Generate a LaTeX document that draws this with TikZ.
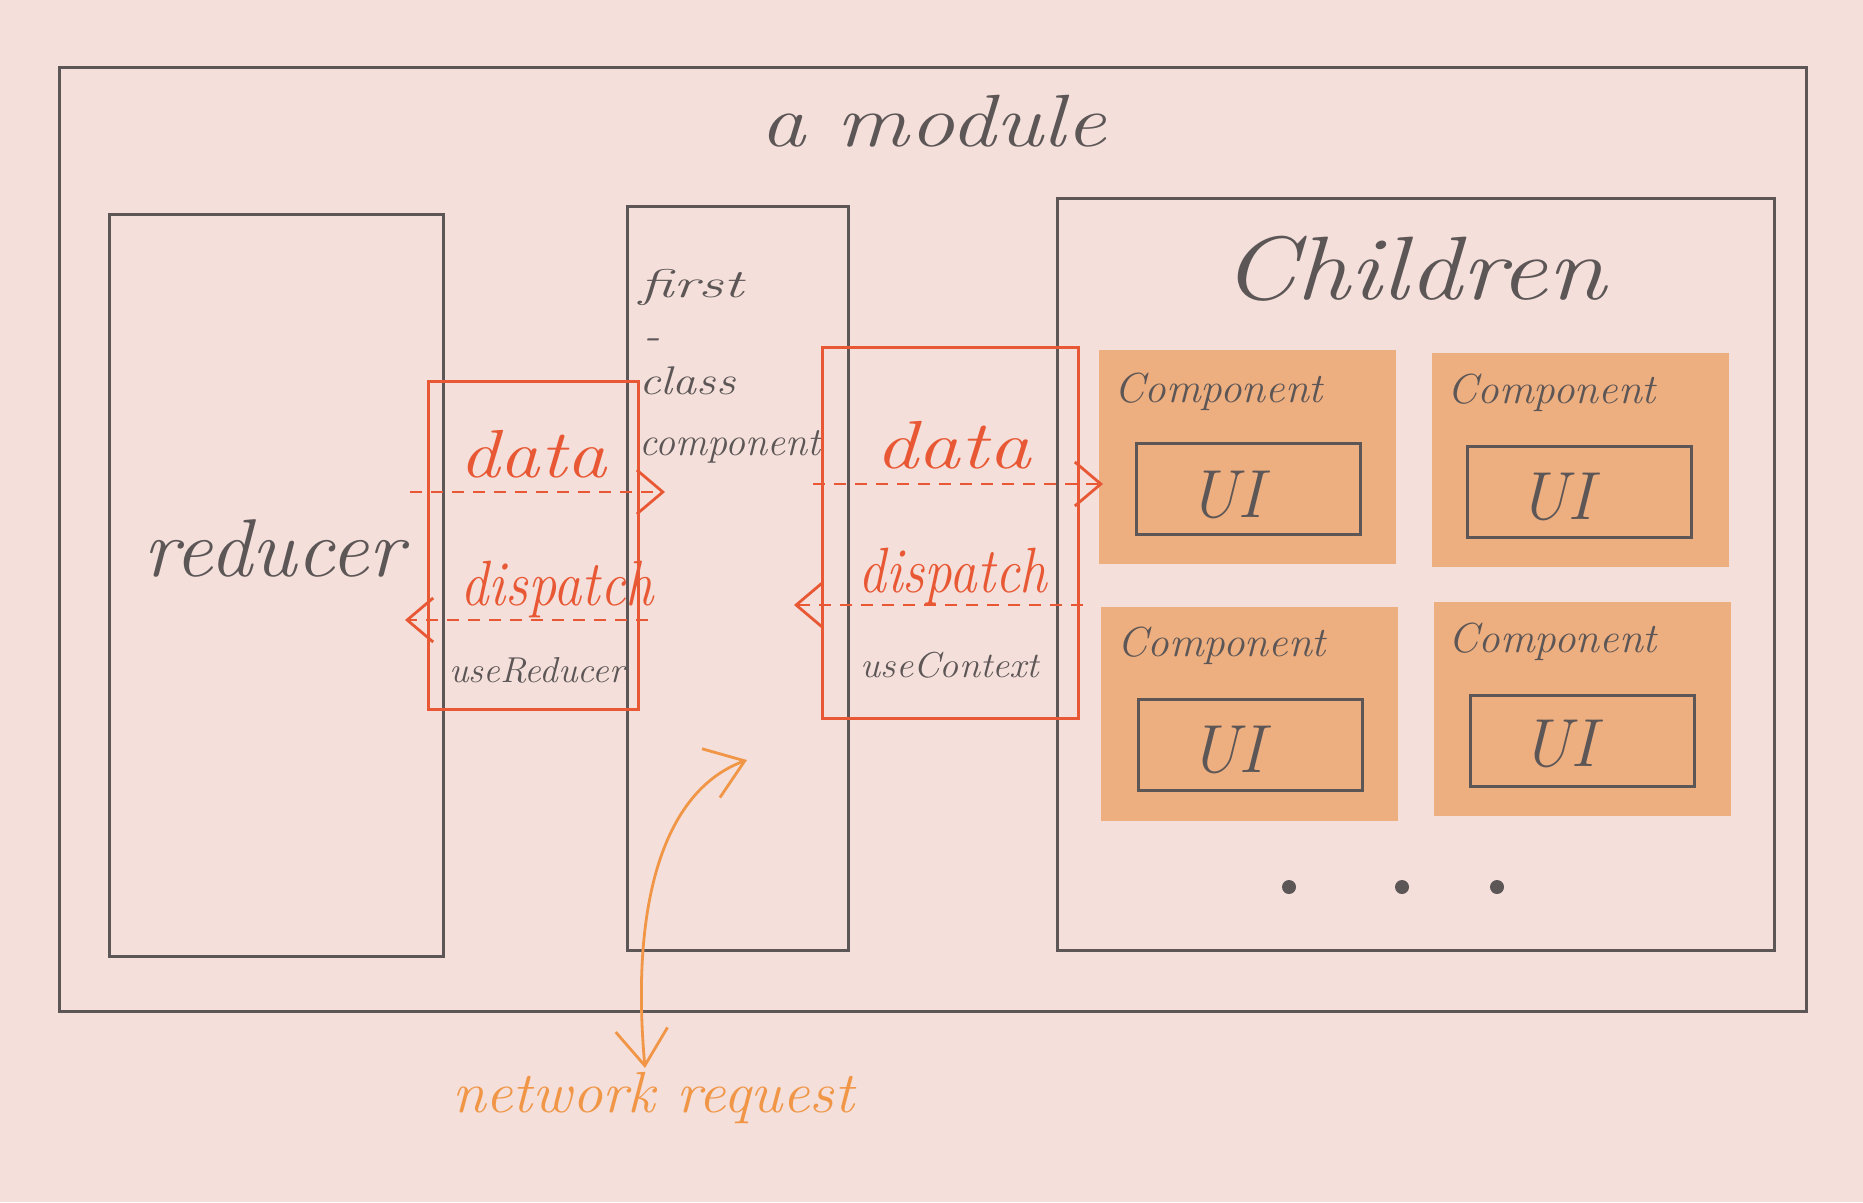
\documentclass[tikz,border=0pt]{standalone}
\usepackage{graphicx}
\usetikzlibrary{arrows.meta}
\definecolor{bg}{RGB}{244,223,218}
\definecolor{pencil}{RGB}{92,86,86}
\definecolor{redpen}{RGB}{232,88,52}
\definecolor{compfill}{RGB}{237,174,128}
\definecolor{netpen}{RGB}{240,150,70}
\newcommand{\sk}[3]{\scalebox{#2}[1]{\fontsize{#1}{#1}\selectfont\itshape #3}}
\begin{document}
\begin{tikzpicture}[x=1pt,y=-1pt,
  box/.style={draw=pencil,line width=3pt,inner sep=0pt,outer sep=0pt,anchor=north west},
  redbox/.style={draw=redpen,line width=3pt,inner sep=0pt,outer sep=0pt,anchor=north west},
  comp/.style={fill=compfill,inner sep=0pt,outer sep=0pt,anchor=north west,minimum width=297pt,minimum height=214pt},
  uibox/.style={draw=pencil,line width=3pt,inner sep=0pt,outer sep=0pt,anchor=north west,minimum width=224pt,minimum height=91pt},
  lbl/.style={text=pencil,inner sep=0pt,anchor=base},
  lblw/.style={text=pencil,inner sep=0pt,anchor=base west},
  redlbl/.style={text=redpen,inner sep=0pt,anchor=base},
  flow/.style={draw=redpen,line width=2.8pt,dash pattern=on 12pt off 9pt,-{Straight Barb[length=26pt,width=44pt]}},
  netflow/.style={draw=netpen,line width=2.8pt,{Straight Barb[length=36pt,width=52pt]}-{Straight Barb[length=36pt,width=52pt]}},
  dot/.style={circle,fill=pencil,inner sep=0pt,minimum size=14pt}
]
\fill[bg] (0,0) rectangle (1863,1202);
\useasboundingbox (0,0) rectangle (1863,1202);

% outer module
\node[box,minimum width=1747pt,minimum height=944pt] (module) at (59,67) {};
\node[lbl] (modtitle) at (933,146) {\sk{74}{1.22}{a module}};

% reducer
\node[box,minimum width=334pt,minimum height=742pt] (reducer) at (109,214) {};
\node[lbl] (redtitle) at (274,576) {\sk{82}{1.04}{reducer}};

% first-class component
\node[box,minimum width=221pt,minimum height=744pt] (fcc) at (627,206) {};
\node[lblw] (t1) at (639,297) {\sk{40}{1.55}{first}};
\node[lblw] (t2) at (643,348) {\sk{40}{1.2}{-}};
\node[lblw] (t3) at (639,394) {\sk{40}{1.2}{class}};
\node[lblw] (t4) at (639,455) {\sk{40}{1.0}{component}};

% children
\node[box,minimum width=717pt,minimum height=752pt] (children) at (1057,198) {};
\node[lbl] (chtitle) at (1414,299) {\sk{90}{1.18}{Children}};

\node[comp] (c1) at (1099,350) {};
\node[comp] (c2) at (1432,353) {};
\node[comp] (c3) at (1101,607) {};
\node[comp] (c4) at (1434,602) {};
\node[uibox] (u1) at (1136,443) {};
\node[uibox] (u2) at (1467,446) {};
\node[uibox] (u3) at (1138,699) {};
\node[uibox] (u4) at (1470,695) {};
\node[lblw] (cl1) at (1114,402) {\sk{42}{1.03}{Component}};
\node[lblw] (cl2) at (1447,403) {\sk{42}{1.03}{Component}};
\node[lblw] (cl3) at (1117,656) {\sk{42}{1.03}{Component}};
\node[lblw] (cl4) at (1448,652) {\sk{42}{1.03}{Component}};
\node[lbl] (ui1) at (1226,517) {\sk{68}{1.0}{UI}};
\node[lbl] (ui2) at (1556,519) {\sk{68}{1.0}{UI}};
\node[lbl] (ui3) at (1227,772) {\sk{68}{1.0}{UI}};
\node[lbl] (ui4) at (1559,766) {\sk{68}{1.0}{UI}};
\node[dot] (d1) at (1289,887) {};
\node[dot] (d2) at (1402,887) {};
\node[dot] (d3) at (1497,887) {};

% useReducer box
\node[redbox,minimum width=210pt,minimum height=328pt] (urbox) at (428,381) {};
\node[redlbl] (ldata) at (533,477) {\sk{68}{1.18}{data}};
\node[redlbl] (ldisp) at (557,605) {\sk{64}{0.88}{dispatch}};
\node[lbl] (ureducer) at (537,682) {\sk{36}{1.03}{useReducer}};
\coordinate (ld1) at (410,492);
\coordinate (ld2) at (665,492);
\coordinate (lp1) at (648,620);
\coordinate (lp2) at (405,620);
\draw[flow] (ld1) -- (ld2);
\draw[flow] (lp1) -- (lp2);

% useContext box
\node[redbox,minimum width=256pt,minimum height=371pt] (ucbox) at (822,347) {};
\node[redlbl] (rdata) at (953,468) {\sk{68}{1.25}{data}};
\node[redlbl] (rdisp) at (953,592) {\sk{64}{0.86}{dispatch}};
\node[lbl] (ucontext) at (950,677) {\sk{36}{1.06}{useContext}};
\coordinate (rd1) at (813,484);
\coordinate (rd2) at (1103,484);
\coordinate (rp1) at (1083,605);
\coordinate (rp2) at (794,605);
\draw[flow] (rd1) -- (rd2);
\draw[flow] (rp1) -- (rp2);

% network request
\node[text=netpen,inner sep=0pt,anchor=base] (net) at (653,1112) {\sk{58}{1.05}{network request}};
\coordinate (nt) at (747,760);
\coordinate (nb) at (645,1068);
\draw[netflow] (nb) .. controls (630,900) and (665,790) .. (nt);
\end{tikzpicture}
\end{document}
